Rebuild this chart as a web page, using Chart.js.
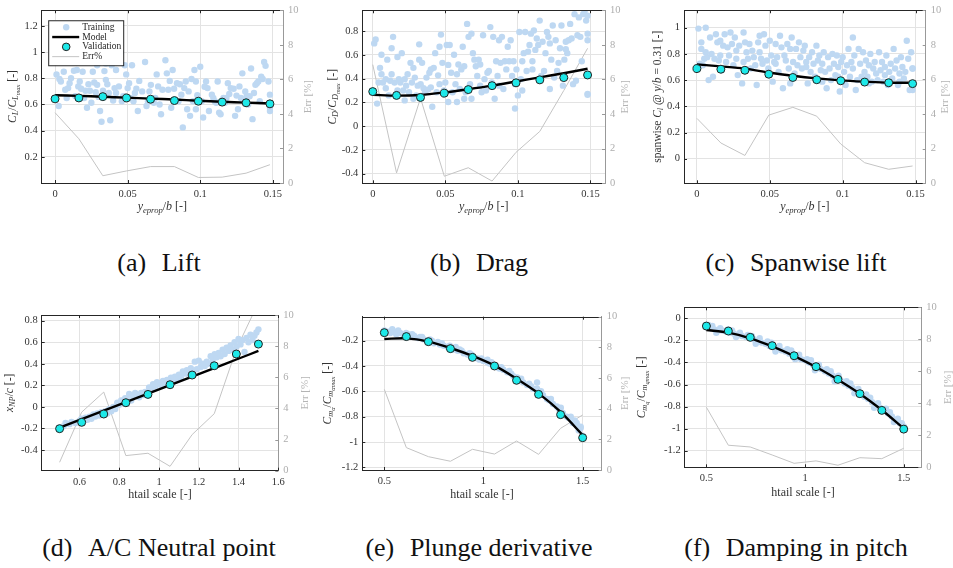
<!DOCTYPE html>
<html>
<head>
<meta charset="utf-8">
<script src="https://cdn.jsdelivr.net/npm/chart.js@4.4.0/dist/chart.umd.min.js"></script>
<style>
body { margin:0; background:#fff; width:953px; height:568px; overflow:hidden; position:relative; }
canvas { position:absolute; }
.cap { position:absolute; width:318px; text-align:center; font-family:"Liberation Serif", serif; font-size:26px; line-height:26px; color:#111; }
.cap span { margin-right:0.6em; }
</style>
</head>
<body>
<canvas id="lift" width="318" height="225" style="left:0;top:0;width:318px;height:225px"></canvas>
<canvas id="drag" width="317" height="225" style="left:318px;top:0;width:317px;height:225px"></canvas>
<canvas id="span" width="318" height="225" style="left:635px;top:0;width:318px;height:225px"></canvas>
<canvas id="np" width="318" height="225" style="left:0;top:295px;width:318px;height:225px"></canvas>
<canvas id="plunge" width="317" height="225" style="left:318px;top:295px;width:317px;height:225px"></canvas>
<canvas id="damp" width="318" height="225" style="left:635px;top:295px;width:318px;height:225px"></canvas>

<div class="cap" style="left:0;top:250px"><span>(a)</span>Lift</div>
<div class="cap" style="left:320px;top:250px"><span>(b)</span>Drag</div>
<div class="cap" style="left:637px;top:250px"><span>(c)</span>Spanwise lift</div>
<div class="cap" style="left:0;top:535px"><span>(d)</span>A/C Neutral point</div>
<div class="cap" style="left:320px;top:535px"><span>(e)</span>Plunge derivative</div>
<div class="cap" style="left:637px;top:535px"><span>(f)</span>Damping in pitch</div>

<script>
// ---- data ----
const topValX = [0, 0.0164, 0.0329, 0.0493, 0.0658, 0.0822, 0.0987, 0.1151, 0.1316, 0.148]
const botValX = [0.5, 0.6111, 0.7222, 0.8333, 0.9444, 1.0556, 1.1667, 1.2778, 1.3889, 1.5]

const topXTicks = [0, 0.05, 0.1, 0.15]
const errTicks = [0, 2, 4, 6, 8, 10]

// (a) lift
const liftValY = [0.643, 0.65, 0.66, 0.65, 0.64, 0.63, 0.625, 0.618, 0.613, 0.605]
const liftModelY = [0.67, 0.666, 0.659, 0.652, 0.645, 0.638, 0.629, 0.621, 0.614, 0.608]
const liftErr = [4.07, 2.56, 0.42, 0.7, 0.95, 0.95, 0.32, 0.34, 0.57, 1.06]
const liftYTicks = [0.2, 0.4, 0.6, 0.8, 1, 1.2]
const liftTrainX = [0.001,0.003,0.0025,0.004,0.006,0.007,0.008,0.009,0.010,0.011,0.013,0.014,0.015,0.016,0.017,0.018,0.019,0.020,0.021,0.022,0.023,0.024,0.025,0.026,0.027,0.028,0.029,0.029,0.030,0.031,0.032,0.033,0.034,0.035,0.035,0.036,0.037,0.038,0.039,0.040,0.041,0.042,0.042,0.044,0.045,0.046,0.047,0.048,0.049,0.050,0.051,0.052,0.053,0.054,0.055,0.056,0.057,0.058,0.060,0.062,0.063,0.064,0.065,0.066,0.068,0.069,0.070,0.071,0.072,0.073,0.074,0.076,0.077,0.078,0.079,0.080,0.081,0.082,0.084,0.085,0.086,0.087,0.088,0.089,0.090,0.091,0.092,0.093,0.094,0.095,0.096,0.097,0.097,0.098,0.100,0.101,0.102,0.103,0.104,0.105,0.106,0.108,0.109,0.110,0.111,0.112,0.113,0.114,0.116,0.117,0.118,0.119,0.120,0.121,0.123,0.124,0.125,0.126,0.127,0.128,0.129,0.131,0.132,0.133,0.134,0.135,0.136,0.137,0.138,0.139,0.140,0.141,0.142,0.143,0.144,0.145,0.147,0.148,0.148,0.148]
const liftTrainY = [0.83,0.795,0.588,0.775,0.85,0.713,0.65,0.725,0.763,0.80,0.858,0.663,0.863,0.738,0.775,0.72,0.85,0.65,0.705,0.575,0.755,0.705,0.613,0.85,0.768,0.693,0.90,0.75,0.658,0.55,0.468,0.705,0.855,0.913,0.788,0.755,0.688,0.48,0.90,0.63,0.725,0.863,0.688,0.738,1.0,0.625,0.663,0.90,0.83,0.725,0.763,0.65,0.90,0.625,0.688,0.72,0.55,0.78,0.70,0.925,0.588,0.625,0.70,0.75,0.613,0.65,0.83,0.738,0.60,0.525,0.713,0.938,0.838,0.713,0.78,0.575,0.863,0.72,0.763,0.625,0.755,0.675,0.425,0.725,0.775,0.563,0.70,0.513,0.795,0.625,0.863,0.563,0.775,0.67,0.888,0.625,0.50,0.735,0.775,0.725,0.55,0.675,0.65,0.625,0.613,0.775,0.538,0.525,0.65,0.613,0.65,0.763,0.68,0.725,0.72,0.513,0.668,0.563,0.738,0.65,0.838,0.70,0.663,0.60,0.663,0.875,0.488,0.688,0.75,0.763,0.775,0.625,0.813,0.795,0.925,0.895,0.775,0.55,0.675,0.575]

// (b) drag
const dragValY = [0.29, 0.258, 0.241, 0.277, 0.307, 0.34, 0.364, 0.389, 0.408, 0.43]
const dragModelY = [0.263, 0.256, 0.262, 0.283, 0.31, 0.34, 0.375, 0.41, 0.445, 0.482]
const dragErr = [6.86, 0.6, 4.92, 0.41, 0.9, 0.13, 1.79, 3.0, 5.36, 7.8]
const dragYTicks = [-0.4, -0.2, 0, 0.2, 0.4, 0.6, 0.8]
const dragTrainX = [0.001,0.002,0.003,0.004,0.005,0.006,0.006,0.007,0.009,0.009,0.010,0.011,0.012,0.013,0.013,0.014,0.015,0.017,0.017,0.018,0.019,0.020,0.021,0.022,0.022,0.023,0.024,0.025,0.026,0.027,0.028,0.028,0.029,0.030,0.031,0.032,0.032,0.033,0.034,0.035,0.036,0.037,0.038,0.039,0.040,0.040,0.041,0.042,0.043,0.044,0.045,0.046,0.046,0.047,0.048,0.049,0.050,0.051,0.052,0.052,0.053,0.054,0.055,0.056,0.057,0.058,0.058,0.059,0.060,0.061,0.062,0.063,0.063,0.064,0.065,0.066,0.067,0.068,0.068,0.069,0.070,0.071,0.072,0.073,0.074,0.074,0.075,0.076,0.077,0.078,0.079,0.080,0.081,0.082,0.083,0.084,0.085,0.086,0.087,0.087,0.088,0.089,0.090,0.091,0.092,0.093,0.094,0.095,0.096,0.097,0.098,0.098,0.099,0.100,0.101,0.102,0.103,0.103,0.104,0.105,0.106,0.107,0.108,0.109,0.110,0.110,0.111,0.112,0.113,0.114,0.115,0.116,0.117,0.118,0.119,0.120,0.121,0.122,0.122,0.123,0.124,0.125,0.126,0.127,0.128,0.129,0.130,0.131,0.132,0.133,0.133,0.134,0.135,0.136,0.137,0.138,0.139,0.140,0.141,0.142,0.143,0.144,0.145,0.146,0.147,0.148,0.148,0.148,0.148,0.148]
const dragTrainY = [0.696,0.729,0.189,0.367,0.49,0.6,0.436,0.367,0.318,0.395,0.559,0.258,0.381,0.655,0.436,0.751,0.367,0.581,0.299,0.395,0.367,0.614,0.299,0.216,0.395,0.34,0.436,0.285,0.532,0.367,0.49,0.23,0.408,0.258,0.34,0.559,0.688,0.353,0.532,0.318,0.285,0.408,0.307,0.449,0.477,0.326,0.162,0.49,0.614,0.285,0.427,0.668,0.353,0.77,0.532,0.299,0.367,0.682,0.515,0.203,0.682,0.449,0.285,0.6,0.353,0.203,0.436,0.518,0.312,0.477,0.668,0.23,0.504,0.285,0.86,0.751,0.353,0.778,0.23,0.614,0.559,0.504,0.422,0.559,0.34,0.518,0.285,0.764,0.395,0.299,0.449,0.463,0.833,0.367,0.751,0.23,0.545,0.422,0.723,0.34,0.532,0.751,0.312,0.545,0.477,0.668,0.545,0.723,0.422,0.545,0.148,0.353,0.477,0.258,0.792,0.395,0.299,0.545,0.614,0.792,0.463,0.627,0.682,0.778,0.545,0.477,0.805,0.641,0.737,0.682,0.888,0.422,0.71,0.463,0.614,0.792,0.751,0.696,0.312,0.559,0.847,0.408,0.723,0.463,0.532,0.655,0.847,0.34,0.559,0.647,0.71,0.614,0.723,0.86,0.737,0.353,0.942,0.381,0.764,0.915,0.751,0.545,0.942,0.97,0.888,0.271,0.778,0.929,0.723,0.263]

// (c) spanwise lift
const spanValY = [0.688, 0.683, 0.675, 0.645, 0.62, 0.603, 0.595, 0.585, 0.58, 0.573]
const spanModelY = [0.72, 0.705, 0.688, 0.658, 0.633, 0.613, 0.598, 0.588, 0.58, 0.58]
const spanErr = [3.75, 2.33, 1.61, 3.94, 4.39, 3.88, 2.27, 1.19, 0.81, 1.0]
const spanYTicks = [0, 0.2, 0.4, 0.6, 0.8, 1]
const spanTrainX = [0.001,0.002,0.003,0.003,0.004,0.005,0.006,0.006,0.007,0.008,0.009,0.010,0.011,0.012,0.013,0.014,0.015,0.016,0.016,0.017,0.018,0.019,0.020,0.021,0.022,0.023,0.024,0.025,0.026,0.027,0.027,0.028,0.029,0.031,0.032,0.032,0.033,0.034,0.035,0.036,0.037,0.038,0.039,0.040,0.041,0.042,0.043,0.043,0.044,0.045,0.046,0.047,0.048,0.049,0.050,0.051,0.052,0.053,0.054,0.054,0.055,0.056,0.057,0.058,0.059,0.060,0.061,0.062,0.063,0.064,0.064,0.065,0.066,0.067,0.068,0.069,0.070,0.071,0.072,0.073,0.074,0.075,0.075,0.076,0.077,0.078,0.079,0.080,0.081,0.082,0.083,0.084,0.085,0.086,0.086,0.087,0.088,0.089,0.090,0.091,0.092,0.093,0.094,0.095,0.096,0.097,0.097,0.098,0.099,0.100,0.101,0.102,0.103,0.104,0.105,0.106,0.107,0.107,0.108,0.109,0.110,0.111,0.112,0.113,0.114,0.115,0.116,0.117,0.118,0.118,0.119,0.120,0.121,0.122,0.123,0.124,0.125,0.126,0.127,0.128,0.129,0.129,0.130,0.131,0.132,0.133,0.134,0.135,0.136,0.137,0.138,0.139,0.139,0.140,0.141,0.142,0.143,0.144,0.145,0.146,0.147,0.148,0.148,0.148]
const spanTrainY = [0.993,0.725,0.838,0.888,0.713,0.763,1.0,0.813,0.775,0.6,0.925,0.8,0.625,0.763,0.95,0.888,0.75,0.9,0.788,0.675,0.863,0.95,0.738,0.85,0.788,0.963,0.875,0.713,0.925,0.825,0.763,0.638,0.863,0.575,0.738,0.963,0.888,0.813,0.763,0.875,0.688,0.825,0.775,0.713,0.563,0.888,0.938,0.813,0.763,0.725,0.95,0.863,0.75,0.688,0.9,0.788,0.588,0.738,0.875,0.725,0.775,0.663,0.938,0.85,0.538,0.788,0.75,0.875,0.688,0.575,0.838,0.925,0.738,0.65,0.838,0.713,0.888,0.775,0.688,0.825,0.863,0.738,0.7,0.575,0.775,0.663,0.813,0.725,0.625,0.863,0.75,0.788,0.675,0.588,0.725,0.813,0.663,0.538,0.775,0.688,0.6,0.8,0.725,0.638,0.788,0.7,0.625,0.513,0.738,0.775,0.663,0.563,0.713,0.838,0.625,0.738,0.925,0.688,0.788,0.525,0.6,0.838,0.725,0.625,0.813,0.663,0.75,0.625,0.575,0.713,0.8,0.588,0.688,0.738,0.65,0.6,0.813,0.675,0.738,0.588,0.7,0.638,0.788,0.563,0.663,0.725,0.613,0.838,0.688,0.75,0.563,0.65,0.588,0.775,0.7,0.613,0.663,0.9,0.763,0.525,0.813,0.688,0.525,0.688]

// (d) neutral point
const npValY = [-0.202, -0.143, -0.066, 0.039, 0.116, 0.206, 0.296, 0.382, 0.491, 0.583]
const npModelY = [-0.193, -0.114, -0.035, 0.044, 0.123, 0.203, 0.282, 0.361, 0.44, 0.519]
const npErr = [0.54, 3.76, 5.05, 0.97, 1.12, 0.28, 2.32, 3.66, 7.8, 10.8]
const npXTicks = [0.6, 0.8, 1, 1.2, 1.4, 1.6]
const npYTicks = [-0.4, -0.2, 0, 0.2, 0.4, 0.6, 0.8]
const npTrainX = [0.50,0.52,0.53,0.55,0.56,0.58,0.60,0.61,0.62,0.63,0.64,0.65,0.66,0.67,0.68,0.69,0.70,0.71,0.73,0.74,0.75,0.76,0.77,0.78,0.79,0.80,0.81,0.82,0.83,0.84,0.85,0.86,0.87,0.88,0.89,0.90,0.91,0.92,0.93,0.94,0.95,0.96,0.97,0.98,0.99,1.00,1.01,1.02,1.03,1.04,1.05,1.06,1.07,1.08,1.09,1.10,1.11,1.12,1.13,1.14,1.15,1.16,1.17,1.18,1.19,1.20,1.21,1.22,1.23,1.24,1.25,1.26,1.27,1.28,1.29,1.30,1.31,1.32,1.33,1.34,1.35,1.36,1.37,1.38,1.39,1.40,1.41,1.42,1.43,1.44,1.45,1.46,1.47,1.48,1.49,1.50]
const npTrainY = [-0.19,-0.18,-0.15,-0.16,-0.14,-0.15,-0.13,-0.11,-0.12,-0.10,-0.12,-0.09,-0.11,-0.07,-0.09,-0.06,-0.08,-0.05,-0.04,-0.06,-0.02,-0.04,0.0,-0.02,0.04,0.02,0.06,0.05,0.08,0.07,0.12,0.06,0.10,0.13,0.11,0.09,0.13,0.11,0.14,0.12,0.18,0.16,0.21,0.19,0.23,0.22,0.20,0.24,0.21,0.25,0.23,0.27,0.24,0.28,0.26,0.30,0.27,0.33,0.31,0.34,0.30,0.36,0.33,0.42,0.35,0.43,0.37,0.40,0.38,0.42,0.40,0.47,0.44,0.49,0.46,0.50,0.47,0.53,0.49,0.55,0.52,0.57,0.53,0.60,0.56,0.63,0.58,0.62,0.51,0.64,0.60,0.67,0.62,0.66,0.69,0.72]

// (e) plunge derivative
const plungeValY = [-0.137, -0.168, -0.208, -0.263, -0.332, -0.4, -0.513, -0.624, -0.784, -0.966]
const plungeModelY = [-0.187, -0.182, -0.208, -0.258, -0.321, -0.397, -0.5, -0.616, -0.763, -0.945]
const plungeErr = [5.26, 1.46, 0.87, 0.57, 1.35, 1.04, 1.89, 1.02, 2.72, 3.59]
const plungeXTicks = [0.5, 1, 1.5]
const plungeYTicks = [-1.2, -1, -0.8, -0.6, -0.4, -0.2]
const plungeTrainX = [0.50,0.52,0.53,0.54,0.55,0.56,0.57,0.58,0.60,0.61,0.62,0.63,0.64,0.65,0.67,0.68,0.69,0.70,0.72,0.73,0.74,0.75,0.77,0.78,0.79,0.80,0.82,0.83,0.84,0.85,0.86,0.87,0.88,0.89,0.90,0.92,0.93,0.94,0.95,0.97,0.98,0.99,1.00,1.02,1.02,1.03,1.04,1.05,1.07,1.08,1.09,1.10,1.12,1.13,1.14,1.15,1.17,1.18,1.19,1.20,1.22,1.23,1.24,1.25,1.27,1.27,1.28,1.29,1.30,1.32,1.33,1.34,1.35,1.37,1.38,1.39,1.40,1.42,1.43,1.44,1.45,1.46,1.47,1.47,1.48,1.49,1.49,1.50]
const plungeTrainY = [-0.12,-0.13,-0.14,-0.11,-0.13,-0.15,-0.12,-0.14,-0.16,-0.14,-0.15,-0.17,-0.15,-0.16,-0.18,-0.17,-0.17,-0.19,-0.20,-0.19,-0.20,-0.22,-0.21,-0.23,-0.22,-0.24,-0.25,-0.24,-0.26,-0.27,-0.25,-0.28,-0.27,-0.28,-0.30,-0.31,-0.30,-0.31,-0.33,-0.34,-0.35,-0.34,-0.36,-0.37,-0.35,-0.38,-0.37,-0.39,-0.41,-0.42,-0.41,-0.43,-0.45,-0.44,-0.46,-0.48,-0.49,-0.51,-0.50,-0.53,-0.55,-0.54,-0.56,-0.58,-0.58,-0.53,-0.61,-0.60,-0.63,-0.66,-0.67,-0.66,-0.70,-0.72,-0.74,-0.73,-0.77,-0.80,-0.81,-0.80,-0.85,-0.83,-0.87,-0.85,-0.91,-0.89,-0.88,-0.95]

// (f) damping in pitch
const dampValY = [-0.07, -0.115, -0.172, -0.248, -0.339, -0.438, -0.553, -0.683, -0.834, -1.004]
const dampModelY = [-0.106, -0.13, -0.181, -0.254, -0.342, -0.441, -0.556, -0.683, -0.831, -0.998]
const dampErr = [3.75, 1.38, 1.27, 0.77, 0.25, 0.4, 0.13, 0.6, 0.54, 1.19]
const dampYTicks = [-1.2, -1, -0.8, -0.6, -0.4, -0.2, 0]
const dampTrainX = [0.50,0.51,0.52,0.53,0.54,0.55,0.56,0.57,0.58,0.60,0.61,0.62,0.63,0.64,0.65,0.66,0.67,0.68,0.70,0.71,0.72,0.73,0.74,0.75,0.76,0.77,0.78,0.80,0.81,0.82,0.83,0.84,0.85,0.86,0.87,0.88,0.90,0.91,0.92,0.93,0.94,0.95,0.96,0.97,0.98,1.00,1.01,1.02,1.03,1.04,1.05,1.06,1.07,1.08,1.10,1.11,1.12,1.13,1.14,1.15,1.16,1.17,1.18,1.20,1.21,1.22,1.23,1.24,1.25,1.26,1.27,1.28,1.30,1.31,1.32,1.33,1.34,1.35,1.36,1.37,1.38,1.40,1.41,1.42,1.43,1.44,1.45,1.46,1.47,1.48,1.49,1.50]
const dampTrainY = [-0.08,-0.06,-0.09,-0.07,-0.10,-0.13,-0.11,-0.09,-0.11,-0.12,-0.10,-0.13,-0.11,-0.14,-0.17,-0.15,-0.13,-0.16,-0.17,-0.15,-0.18,-0.16,-0.19,-0.23,-0.21,-0.18,-0.22,-0.23,-0.21,-0.25,-0.22,-0.26,-0.30,-0.27,-0.25,-0.29,-0.30,-0.28,-0.32,-0.29,-0.33,-0.37,-0.35,-0.33,-0.37,-0.38,-0.37,-0.40,-0.38,-0.42,-0.47,-0.44,-0.42,-0.46,-0.48,-0.46,-0.50,-0.48,-0.52,-0.57,-0.54,-0.52,-0.56,-0.59,-0.57,-0.61,-0.59,-0.63,-0.68,-0.66,-0.64,-0.68,-0.71,-0.69,-0.73,-0.72,-0.76,-0.81,-0.78,-0.77,-0.81,-0.84,-0.82,-0.86,-0.85,-0.89,-0.94,-0.92,-0.91,-0.95,-0.95,-0.98]

// ---- drawing helpers ----
const FONT = '"Liberation Serif", "Times New Roman", serif'
Chart.defaults.font.family = FONT

function pts(xs, ys) {
    let out = []
    const n = Math.min(xs.length, ys.length)
    for (let i = 0; i < n; i++) out.push({x: xs[i], y: ys[i]})
    return out
}

function fmt(v) {
    return String(parseFloat(v.toFixed(3)))
}

// parts: [text, style]  r = roman, i = italic, si = italic sub, ssi = italic sub-sub
function richText(ctx, parts, x, y, size, color, vertical) {
    const scale = {r: 1, i: 1, si: 0.72, ssi: 0.56}
    const shift = {r: 0, i: 0, si: 0.28, ssi: 0.45}
    let total = 0
    const fonts = parts.map(p => {
        const f = (p[1] === 'r' ? '' : 'italic ') + (size * scale[p[1]]) + 'px ' + FONT
        ctx.font = f
        const w = ctx.measureText(p[0]).width
        total += w
        return {f: f, w: w}
    })
    ctx.save()
    ctx.translate(x, y)
    if (vertical) ctx.rotate(-Math.PI / 2)
    ctx.fillStyle = color
    ctx.textAlign = 'left'
    ctx.textBaseline = 'middle'
    let cx = -total / 2
    parts.forEach((p, k) => {
        ctx.font = fonts[k].f
        ctx.fillText(p[0], cx, shift[p[1]] * size)
        cx += fonts[k].w
    })
    ctx.restore()
}

const decor = {
    id: 'decor',
    afterDraw(chart, args, o) {
        const ctx = chart.ctx, a = chart.chartArea
        const sx = chart.scales.x, sy = chart.scales.y, sy2 = chart.scales.y2
        ctx.save()
        ctx.lineWidth = 1
        ctx.strokeStyle = '#262626'
        ctx.beginPath()
        ctx.moveTo(a.left, Math.round(a.top) + 0.5)
        ctx.lineTo(a.right, Math.round(a.top) + 0.5)
        sx.ticks.forEach(t => {
            const px = Math.round(sx.getPixelForValue(t.value)) + 0.5
            ctx.moveTo(px, a.bottom); ctx.lineTo(px, a.bottom - 3)
            ctx.moveTo(px, a.top); ctx.lineTo(px, a.top + 3)
        })
        sy.ticks.forEach(t => {
            const py = Math.round(sy.getPixelForValue(t.value)) + 0.5
            ctx.moveTo(a.left, py); ctx.lineTo(a.left + 3, py)
        })
        ctx.stroke()
        ctx.strokeStyle = '#999'
        ctx.beginPath()
        sy2.ticks.forEach(t => {
            const py = Math.round(sy2.getPixelForValue(t.value)) + 0.5
            ctx.moveTo(a.right, py); ctx.lineTo(a.right - 3, py)
        })
        ctx.stroke()

        const midY = (a.top + a.bottom) / 2, midX = (a.left + a.right) / 2
        richText(ctx, o.yTitle, o.yTitleX, midY, 11.5, '#333', true)
        richText(ctx, [['Err [%]', 'r']], o.y2TitleX, midY, 11, '#b4b4b4', true)
        richText(ctx, o.xTitle, midX, o.xTitleY, 12, '#333', false)

        if (o.legend) {
            const lx = a.left + 6.5, ly = a.top + 10
            ctx.fillStyle = '#fff'
            ctx.fillRect(lx, ly, 75, 45)
            ctx.strokeStyle = '#262626'
            ctx.strokeRect(lx + 0.5, ly + 0.5, 75, 45)
            const rows = ['Training', 'Model', 'Validation', 'Err%']
            rows.forEach((r, k) => {
                const ry = ly + 7 + k * 9.8
                const sxm = lx + 18
                if (k === 0) {
                    ctx.fillStyle = 'rgb(190,216,242)'
                    ctx.beginPath(); ctx.arc(sxm, ry, 3.2, 0, Math.PI * 2); ctx.fill()
                } else if (k === 2) {
                    ctx.fillStyle = '#1de9e9'; ctx.strokeStyle = '#222'
                    ctx.beginPath(); ctx.arc(sxm, ry, 3.8, 0, Math.PI * 2); ctx.fill(); ctx.stroke()
                } else {
                    ctx.strokeStyle = k === 1 ? '#000' : '#c4c4c4'
                    ctx.lineWidth = k === 1 ? 2.4 : 1
                    ctx.beginPath(); ctx.moveTo(lx + 4, ry); ctx.lineTo(lx + 31, ry); ctx.stroke()
                    ctx.lineWidth = 1
                }
                ctx.fillStyle = '#262626'
                ctx.font = '9.5px ' + FONT
                ctx.textAlign = 'left'
                ctx.textBaseline = 'middle'
                ctx.fillText(r, lx + 34, ry)
            })
        }
        ctx.restore()
    }
}

function makeChart(id, s) {
    const tickFont = {size: 10.5, lineHeight: 1}
    return new Chart(document.getElementById(id), {
        type: 'scatter',
        data: {
            datasets: [
                {label: 'Validation', data: pts(s.vx, s.vy), pointRadius: 4, backgroundColor: '#1de9e9',
                    borderColor: '#222', borderWidth: 1, order: 1},
                {type: 'line', label: 'Model', data: pts(s.vx, s.my), borderColor: '#000', borderWidth: 2.4,
                    pointRadius: 0, tension: 0.3, order: 2},
                {label: 'Training', data: pts(s.tx, s.ty), pointRadius: 3.2, backgroundColor: 'rgb(190,216,242)',
                    borderWidth: 0, order: 3},
                {type: 'line', label: 'Err%', data: pts(s.vx, s.err), yAxisID: 'y2', borderColor: '#c4c4c4',
                    borderWidth: 1, pointRadius: 0, order: 4}
            ]
        },
        options: {
            responsive: false,
            animation: false,
            events: [],
            layout: {padding: {top: s.box[2], left: 0, right: 0, bottom: 0}},
            plugins: {
                legend: {display: false},
                tooltip: {enabled: false},
                decor: {yTitle: s.yTitle, xTitle: s.xTitle, yTitleX: s.titlePos[0], y2TitleX: s.titlePos[1],
                    xTitleY: s.titlePos[2], legend: !!s.legend}
            },
            scales: {
                x: {
                    type: 'linear', min: s.xr[0], max: s.xr[1],
                    afterBuildTicks: sc => { sc.ticks = s.xticks.map(v => ({value: v})) },
                    afterFit: sc => { sc.height = s.box[3] },
                    grid: {color: '#e3e3e3', drawTicks: false},
                    border: {color: '#262626'},
                    ticks: {color: '#333', font: tickFont, padding: 6, maxRotation: 0, callback: v => fmt(v)}
                },
                y: {
                    position: 'left', min: s.yr[0], max: s.yr[1],
                    afterBuildTicks: sc => { sc.ticks = s.yticks.map(v => ({value: v})) },
                    afterFit: sc => { sc.width = s.box[0] },
                    grid: {color: '#e3e3e3', drawTicks: false},
                    border: {color: '#262626'},
                    ticks: {color: '#333', font: tickFont, padding: 4, callback: v => fmt(v)}
                },
                y2: {
                    position: 'right', min: 0, max: 10,
                    afterBuildTicks: sc => { sc.ticks = errTicks.map(v => ({value: v})) },
                    afterFit: sc => { sc.width = s.box[1] },
                    grid: {drawOnChartArea: false, drawTicks: false},
                    border: {color: '#999'},
                    ticks: {color: '#adadad', font: tickFont, padding: 5, callback: v => fmt(v)}
                }
            }
        },
        plugins: [decor]
    })
}

const topXTitle = [['y', 'i'], ['eprop', 'si'], ['/', 'r'], ['b', 'i'], [' [-]', 'r']]
const botXTitle = [['htail scale [-]', 'r']]

// box = [left axis width, right axis width, top padding, x axis height]
makeChart('lift', {
    tx: liftTrainX, ty: liftTrainY, vx: topValX, vy: liftValY, my: liftModelY, err: liftErr,
    xr: [-0.0092, 0.157], yr: [0, 1.32], xticks: topXTicks, yticks: liftYTicks,
    box: [41.7, 35, 7, 42], titlePos: [13, 308, 207], legend: true,
    yTitle: [['C', 'i'], ['L', 'si'], ['/', 'r'], ['C', 'i'], ['L', 'si'], ['max', 'ssi'], [' [-]', 'r']],
    xTitle: topXTitle
})
makeChart('drag', {
    tx: dragTrainX, ty: dragTrainY, vx: topValX, vy: dragValY, my: dragModelY, err: dragErr,
    xr: [-0.0072, 0.16], yr: [-0.482, 0.975], xticks: topXTicks, yticks: dragYTicks,
    box: [44.3, 30, 6, 41.7], titlePos: [15, 307, 207],
    yTitle: [['C', 'i'], ['D', 'si'], ['/', 'r'], ['C', 'i'], ['D', 'si'], ['max', 'ssi'], [' [-]', 'r']],
    xTitle: topXTitle
})
makeChart('span', {
    tx: spanTrainX, ty: spanTrainY, vx: topValX, vy: spanValY, my: spanModelY, err: spanErr,
    xr: [-0.0089, 0.157], yr: [-0.1875, 1.133], xticks: topXTicks, yticks: spanYTicks,
    box: [49, 27.3, 7.3, 41.7], titlePos: [23, 310.5, 207],
    yTitle: [['spanwise ', 'r'], ['C', 'i'], ['l', 'si'], [' @ ', 'r'], ['y', 'i'], ['/', 'r'], ['b', 'i'], [' = 0.31 [-]', 'r']],
    xTitle: topXTitle
})
makeChart('np', {
    tx: npTrainX, ty: npTrainY, vx: botValX, vy: npValY, my: npModelY, err: npErr,
    xr: [0.41, 1.6], yr: [-0.592, 0.853], xticks: npXTicks, yticks: npYTicks,
    box: [41.7, 39.7, 20, 49.3], titlePos: [10, 305, 200],
    yTitle: [['x', 'i'], ['NP', 'si'], ['/', 'r'], ['c', 'i'], [' [-]', 'r']],
    xTitle: botXTitle
})
makeChart('plunge', {
    tx: plungeTrainX, ty: plungeTrainY, vx: botValX, vy: plungeValY, my: plungeModelY, err: plungeErr,
    xr: [0.389, 1.596], yr: [-1.221, -0.011], xticks: plungeXTicks, yticks: plungeYTicks,
    box: [44.3, 33.3, 21.7, 50], titlePos: [10, 307, 200],
    yTitle: [['C', 'i'], ['m', 'si'], ['α', 'ssi'], ['/', 'r'], ['C', 'i'], ['m', 'si'], ['αmax', 'ssi'], [' [-]', 'r']],
    xTitle: botXTitle
})
makeChart('damp', {
    tx: dampTrainX, ty: dampTrainY, vx: botValX, vy: dampValY, my: dampModelY, err: dampErr,
    xr: [0.39, 1.589], yr: [-1.35, 0.1], xticks: plungeXTicks, yticks: dampYTicks,
    box: [49.7, 31.7, 12.3, 52.7], titlePos: [7, 313, 198],
    yTitle: [['C', 'i'], ['m', 'si'], ['q', 'ssi'], ['/', 'r'], ['C', 'i'], ['m', 'si'], ['qmax', 'ssi'], [' [-]', 'r']],
    xTitle: botXTitle
})
</script>
</body>
</html>
